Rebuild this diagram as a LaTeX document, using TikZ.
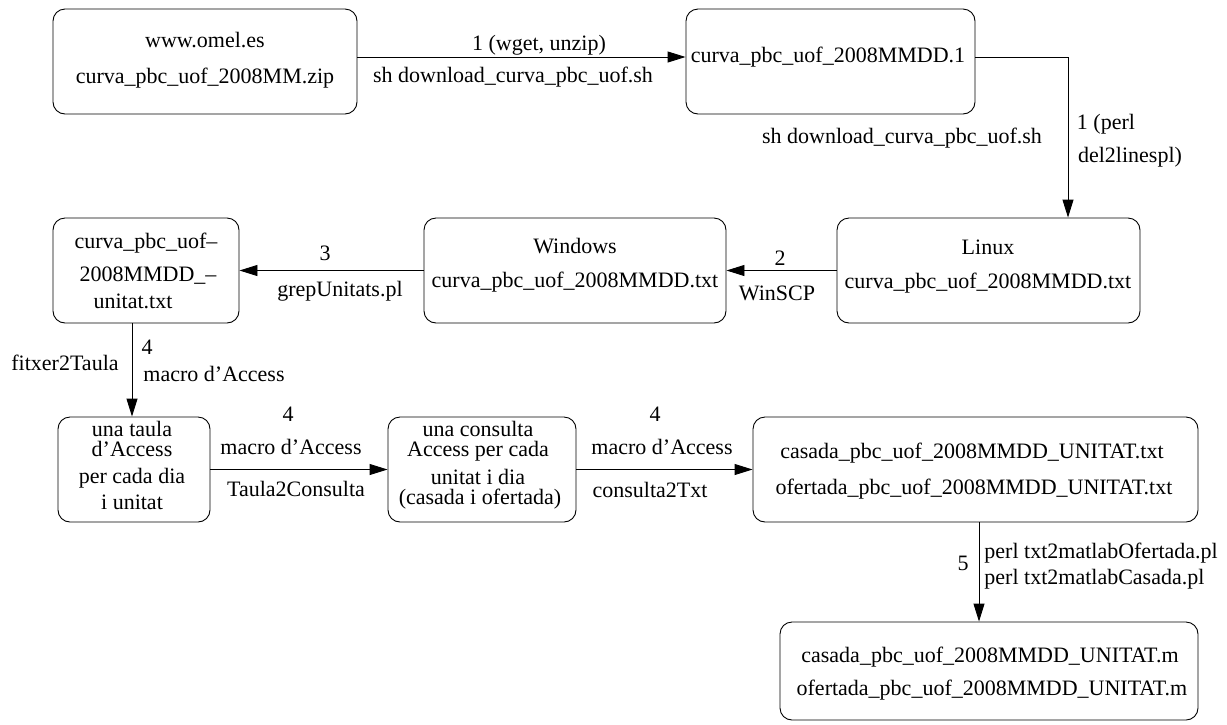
\documentclass[tikz,border=0pt]{standalone}
\usepackage{fontspec}
\setmainfont{Liberation Serif}
\usetikzlibrary{arrows.meta,fit}

\begin{document}
\begin{tikzpicture}[x=1pt,y=-1pt,line width=0.9pt,
  box/.style={draw,rounded corners=12pt,inner sep=0pt},
  txt/.style={inner sep=0pt,font=\fontsize{22}{24}\selectfont},
  tight/.style={txt,text height=13pt,text depth=4pt},
  >={Triangle[length=18pt,width=11pt]}]
\useasboundingbox (0,0) rectangle (1227,724);
% boxes: name/left/top/right/bottom
\foreach \nm/\xa/\ya/\xb/\yb in {omel/53/9/357/114, curvone/686/9/975/114,
    linux/837/218/1140/323, windows/424/218/726/323, unitat/53/218/239/323,
    taula/58/417/210/522, consulta/388/417/576/522, casada/753/417/1198/522,
    mfiles/780/622/1198/720}
  \node[box,fit={(\xa,\ya) (\xb,\yb)}] (\nm) {};

% texts in the boxes
\node[txt] (t-omel) at (205,40) {www.omel.es};
\node[txt] (t-zip) at (205,78) {curva\_pbc\_uof\_2008MM.zip};
\node[txt] (t-one) at (828,57) {curva\_pbc\_uof\_2008MMDD.1};
\node[txt] (t-linux) at (988,247) {Linux};
\node[txt] (t-linuxtxt) at (988,283) {curva\_pbc\_uof\_2008MMDD.txt};
\node[txt] (t-win) at (575,246) {Windows};
\node[txt] (t-wintxt) at (575,282) {curva\_pbc\_uof\_2008MMDD.txt};
\node[txt] (t-un1) at (146,243) {curva\_pbc\_uof–};
\node[txt] (t-un2) at (148,276) {2008MMDD\_–};
\node[txt] (t-un3) at (133,301) {unitat.txt};
\node[tight] (t-ta1) at (132,432) {una taula};
\node[tight] (t-ta2) at (132,452) {d'Access};
\node[tight] (t-ta3) at (132,479) {per cada dia};
\node[tight] (t-ta4) at (132,505) {i unitat};
\node[tight] (t-co1) at (478,432) {una consulta};
\node[tight] (t-co2) at (478,452) {Access per cada};
\node[tight] (t-co3) at (478,480) {unitat i dia};
\node[tight] (t-co4) at (480,500) {(casada i ofertada)};
\node[txt] (t-ca1) at (972,453) {casada\_pbc\_uof\_2008MMDD\_UNITAT.txt};
\node[txt] (t-ca2) at (974,489) {ofertada\_pbc\_uof\_2008MMDD\_UNITAT.txt};
\node[txt] (t-m1) at (990,657) {casada\_pbc\_uof\_2008MMDD\_UNITAT.m};
\node[txt] (t-m2) at (992,690) {ofertada\_pbc\_uof\_2008MMDD\_UNITAT.m};

% connectors
\draw[->] ([yshift=4.5pt]omel.east) -- ([yshift=4.5pt]curvone.west);
\draw[->] ([yshift=4.5pt]curvone.east) -| ([xshift=79.5pt]linux.north);
\draw[->] (linux.west) -- (windows.east);
\draw[->] (windows.west) -- (unitat.east);
\draw[->] ([xshift=-14pt]unitat.south) -- ([xshift=-14pt]unitat.south |- taula.north);
\draw[->] (taula.east) -- (consulta.west);
\draw[->] (consulta.east) -- (casada.west);
\draw[->] ([xshift=3.5pt]casada.south) -- ([xshift=3.5pt]casada.south |- mfiles.north);

% connector labels
\node[txt] (l-wget) at (539,45) {1 (wget, unzip)};
\node[txt] (l-sh1) at (513,77) {sh download\_curva\_pbc\_uof.sh};
\node[txt] (l-sh2) at (902,138) {sh download\_curva\_pbc\_uof.sh};
\node[txt] (l-perl1) at (1106,124) {1 (perl};
\node[txt] (l-perl2) at (1130,157) {del2linespl)};
\node[txt] (l-two) at (780,258) {2};
\node[txt] (l-scp) at (777,293) {WinSCP};
\node[txt] (l-three) at (325,253) {3};
\node[txt] (l-grep) at (340,291) {grepUnitats.pl};
\node[txt] (l-four1) at (147,347) {4};
\node[txt] (l-mac1) at (214,374) {macro d'Access};
\node[txt] (l-fit) at (65,363) {fitxer2Taula};
\node[txt] (l-four2) at (288,414) {4};
\node[txt] (l-mac2) at (291,447) {macro d'Access};
\node[txt] (l-t2c) at (296,489) {Taula2Consulta};
\node[txt] (l-four3) at (655,414) {4};
\node[txt] (l-mac3) at (662,447) {macro d'Access};
\node[txt] (l-c2t) at (650,490) {consulta2Txt};
\node[txt] (l-five) at (963,563) {5};
\node[txt,anchor=west] (l-ofe) at (984,553) {perl txt2matlabOfertada.pl};
\node[txt,anchor=west] (l-cas) at (984,579) {perl txt2matlabCasada.pl};
\end{tikzpicture}
\end{document}
